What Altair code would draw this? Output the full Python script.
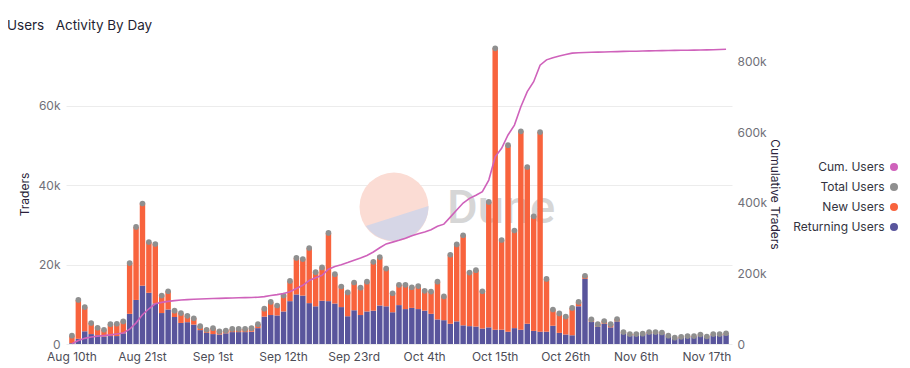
import altair as alt
import pandas as pd

# ---------------- data (values in thousands of traders) ----------------
start_day = "2023-08-10"
n_days = 103

returning_users = [
    0.2, 1.3, 3.2, 2.5, 2.2, 1.9, 2.0, 2.0, 2.7, 7.6,
    11.1, 14.7, 12.9, 10.2, 7.8, 8.7, 6.8, 5.3, 5.5, 4.9,
    3.5, 2.8, 2.5, 2.4, 2.7, 3.0, 3.0, 3.0, 3.1, 4.0,
    6.9, 7.3, 7.2, 8.2, 10.8, 12.5, 12.2, 10.3, 9.5, 10.9,
    10.8, 10.2, 9.3, 7.0, 8.5, 7.3, 8.2, 8.4, 9.7, 9.5,
    8.0, 9.8, 8.8, 9.1, 8.8, 8.4, 7.6, 6.2, 6.0, 5.1,
    5.7, 4.7, 4.5, 4.4, 3.9, 4.2, 3.6, 3.6, 3.1, 4.0,
    3.6, 5.1, 3.3, 3.1, 3.1, 4.6, 2.8, 2.4, 2.2, 9.5,
    16.4, 5.6, 4.4, 5.1, 4.2, 5.7, 2.7, 2.2, 2.2, 2.3,
    2.7, 2.7, 2.6, 1.8, 1.35, 1.55, 1.75, 1.75, 2.1, 1.65,
    2.2, 2.2, 2.4,
]
new_users = [
    1.9, 9.8, 6.1, 2.8, 1.9, 1.7, 3.0, 3.1, 3.0, 12.8,
    18.4, 20.7, 12.8, 15.0, 4.4, 4.6, 1.6, 2.5, 1.6, 1.6,
    1.0, 0.8, 1.5, 0.8, 0.7, 0.8, 0.8, 0.8, 0.9, 1.0,
    2.0, 3.3, 2.5, 4.0, 5.1, 9.2, 9.2, 13.9, 8.6, 8.4,
    17.2, 7.4, 5.2, 6.0, 7.0, 6.9, 7.5, 12.3, 12.2, 9.5,
    4.8, 5.1, 6.1, 5.2, 5.8, 5.0, 5.6, 9.5, 6.0, 17.4,
    19.4, 22.7, 13.5, 14.2, 9.4, 31.6, 70.9, 22.6, 47.0, 24.6,
    50.0, 39.5, 28.9, 50.3, 13.3, 4.1, 4.9, 4.5, 6.9, 1.1,
    0.8, 0.6, 0.6, 0.7, 0.8, 0.6, 0.3, 0.3, 0.3, 0.3,
    0.3, 0.3, 0.3, 0.3, 0.25, 0.25, 0.25, 0.25, 0.3, 0.25,
    0.3, 0.3, 0.3,
]
total_users = [
    2.1, 11.1, 9.3, 5.3, 4.1, 3.6, 5.0, 5.1, 5.7, 20.4,
    29.5, 35.4, 25.7, 25.2, 12.2, 13.3, 8.4, 7.8, 7.1, 6.5,
    4.5, 3.6, 4.0, 3.2, 3.4, 3.8, 3.8, 3.8, 4.0, 5.0,
    8.9, 10.6, 9.7, 12.2, 15.9, 21.7, 21.4, 24.2, 18.1, 19.3,
    28.0, 17.6, 14.5, 13.0, 15.5, 14.2, 15.7, 20.7, 21.9, 19.0,
    12.8, 14.9, 14.9, 14.3, 14.6, 13.4, 13.2, 15.7, 12.0, 22.5,
    25.1, 27.4, 18.0, 18.6, 13.3, 35.8, 74.5, 26.2, 50.1, 28.6,
    53.6, 44.6, 32.2, 53.4, 16.4, 8.7, 7.7, 6.9, 9.1, 10.6,
    17.2, 6.2, 5.0, 5.8, 5.0, 6.3, 3.0, 2.5, 2.5, 2.6,
    3.0, 3.0, 2.9, 2.1, 1.6, 1.8, 2.0, 2.0, 2.4, 1.9,
    2.5, 2.5, 2.7,
]
cum_users = [
    1, 10, 16, 20, 22, 24, 26, 28.5, 31, 42,
    60, 83, 100, 114, 118, 121, 123, 125, 126, 127,
    127.7, 128.2, 129, 129.5, 130, 130.5, 131, 131.5, 132, 132.8,
    134.5, 137.5, 140, 143.5, 148.5, 157.5, 166.5, 180, 188, 195,
    212, 220, 225, 231, 237.5, 244, 251, 261, 273, 284,
    289, 294, 300, 307, 313, 318, 324, 334, 340, 360,
    380, 400, 413, 422, 432, 465, 531, 555, 593, 621,
    673, 716, 744, 791, 806, 812, 817, 821, 825, 826,
    827, 827.5, 828, 828.5, 829, 829.5, 830, 830.3, 830.6, 831,
    831.4, 831.8, 832.2, 832.5, 832.8, 833.1, 833.4, 833.7, 834, 834.4,
    834.8, 835.2, 836,
]

series_names = ["Cum. Users", "Total Users", "New Users", "Returning Users"]
series_colors = ["#cf62bb", "#8f8f8f", "#f8633d", "#59559c"]


def suffix(d):
    if d in (11, 12, 13):
        return "th"
    return {1: "st", 2: "nd", 3: "rd"}.get(d % 10, "th")


dates = pd.date_range(start_day, periods=n_days, freq="D")
day_labels = [f"{d:%b} {d.day}{suffix(d.day)}" for d in dates]
tick_labels = day_labels[::11]

bars_df = pd.DataFrame(
    {
        "day": day_labels * 2,
        "series": ["Returning Users"] * n_days + ["New Users"] * n_days,
        "value": [v * 1000 for v in returning_users] + [v * 1000 for v in new_users],
        "ord": [0] * n_days + [1] * n_days,
    }
)
total_df = pd.DataFrame(
    {"day": day_labels, "series": "Total Users", "value": [v * 1000 for v in total_users]}
)
cum_df = pd.DataFrame(
    {"day": day_labels, "series": "Cum. Users", "value": [v * 1000 for v in cum_users]}
)

FONT = "Inter"
W, H = 666, 300

x_enc = alt.X(
    "day:N",
    sort=day_labels,
    scale=alt.Scale(paddingInner=0.15, paddingOuter=0.5),
    axis=alt.Axis(
        values=tick_labels,
        title=None,
        labelAngle=0,
        ticks=False,
        tickSize=0,
        domain=False,
        grid=False,
        labelPadding=7,
        labelFontSize=12,
        labelColor="#4d4d57",
        labelFont=FONT,
    ),
)

color_scale = alt.Scale(domain=series_names, range=series_colors)

k_expr = "datum.value == 0 ? '0' : format(datum.value / 1000, 'd') + 'k'"

left_axis = alt.Axis(
    values=[0, 20000, 40000, 60000],
    labelExpr=k_expr,
    title="Traders",
    titleFont=FONT,
    titleFontSize=12,
    titleFontWeight="normal",
    titleColor="#2b1f3b",
    titlePadding=7,
    labelFont=FONT,
    labelFontSize=12,
    labelColor="#707078",
    labelPadding=6,
    ticks=False,
    tickSize=0,
    domain=False,
    grid=True,
    gridColor="#ececec",
    gridWidth=1,
)

right_axis = alt.Axis(
    values=[0, 200000, 400000, 600000, 800000],
    labelExpr=k_expr,
    orient="right",
    title="Cumulative Traders",
    titleFont=FONT,
    titleFontSize=12,
    titleFontWeight="normal",
    titleColor="#2b1f3b",
    titlePadding=1,
    labelFont=FONT,
    labelFontSize=12,
    labelColor="#707078",
    labelPadding=5,
    ticks=False,
    tickSize=0,
    domain=False,
    grid=False,
)

one = pd.DataFrame({"a": [0]})

# watermark (decoration)
wm_pink = alt.Chart(one).mark_point(
    shape="circle", filled=True, size=4761, color="#fbdcd4", opacity=1
).encode(x=alt.value(328), y=alt.value(163))
wm_lav = alt.Chart(one).mark_point(
    shape="M 1 -0.03 A 1 1 0 0 1 -0.82 0.55 Z",
    filled=True,
    size=4761,
    color="#d6d6e6",
    opacity=1,
).encode(x=alt.value(328), y=alt.value(163))
wm_text = alt.Chart(one).mark_text(
    text="Dune",
    font="Roboto",
    fontSize=47,
    fontWeight=500,
    color="#d6d6d6",
    align="left",
    baseline="alphabetic",
).encode(x=alt.value(381), y=alt.value(179))

bars = alt.Chart(bars_df).mark_bar().encode(
    x=x_enc,
    y=alt.Y(
        "value:Q",
        stack="zero",
        scale=alt.Scale(domain=[0, 75600], nice=False),
        axis=left_axis,
    ),
    color=alt.Color("series:N", scale=color_scale, legend=None),
    order=alt.Order("ord:Q"),
)

points = alt.Chart(total_df).mark_point(filled=True, size=32, opacity=1).encode(
    x=alt.X("day:N", sort=day_labels),
    y=alt.Y("value:Q"),
    color=alt.Color("series:N", scale=color_scale, legend=None),
)

# custom legend: label to the left of a round swatch
legend_layers = []
for i, (name, col) in enumerate(zip(series_names, series_colors)):
    legend_layers.append(
        alt.Chart(one)
        .mark_text(
            text=name,
            font=FONT,
            fontSize=12,
            color="#333340",
            align="right",
            baseline="middle",
        )
        .encode(x=alt.value(818.5), y=alt.value(123 + 20 * i))
    )
    legend_layers.append(
        alt.Chart(one)
        .mark_point(shape="circle", filled=True, size=64, color=col, opacity=1)
        .encode(x=alt.value(828), y=alt.value(123 + 20 * i))
    )

left = alt.layer(wm_pink, wm_lav, wm_text, bars, points, *legend_layers)

line = alt.Chart(cum_df).mark_line(strokeWidth=1.6).encode(
    x=alt.X("day:N", sort=day_labels),
    y=alt.Y(
        "value:Q",
        scale=alt.Scale(domain=[0, 851000], nice=False),
        axis=right_axis,
    ),
    color=alt.Color("series:N", scale=color_scale, legend=None),
)

chart = (
    alt.layer(left, line)
    .resolve_scale(y="independent")
    .properties(
        width=W,
        height=H,
        autosize=alt.AutoSizeParams(type="none"),
        padding={"left": 58, "top": 36, "right": 166, "bottom": 22},
        title=alt.TitleParams(
            "Users\u00a0\u00a0\u00a0Activity By Day",
            anchor="start",
            frame="group",
            dx=-59,
            offset=1,
            baseline="alphabetic",
            font=FONT,
            fontSize=13.5,
            fontWeight="normal",
            color="#1f1f33",
        ),
    )
    .configure(background="white")
    .configure_view(strokeWidth=0, stroke=None)
)

chart.save("out.html", embed_options={"renderer": "svg", "actions": False})
